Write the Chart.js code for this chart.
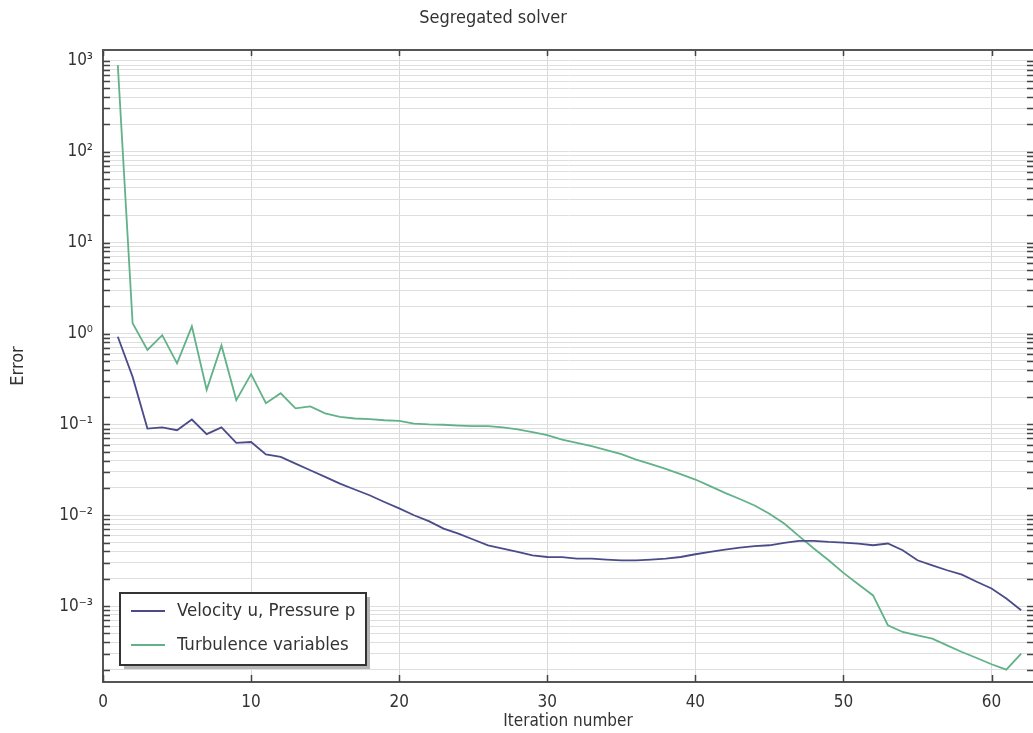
<!DOCTYPE html>
<html>
<head>
<meta charset="utf-8">
<style>
  body { margin: 0; background: #fff; }
  canvas { display: block; }
</style>
<script src="https://cdn.jsdelivr.net/npm/chart.js@4.4.0/dist/chart.umd.min.js"></script>
</head>
<body>
<canvas id="solverChart" width="1033" height="733"></canvas>
<script>
// Segregated solver convergence
const iterations = [1, 2, 3, 4, 5, 6, 7, 8, 9, 10, 11, 12, 13, 14, 15, 16, 17, 18, 19, 20,
  21, 22, 23, 24, 25, 26, 27, 28, 29, 30, 31, 32, 33, 34, 35, 36, 37, 38, 39, 40,
  41, 42, 43, 44, 45, 46, 47, 48, 49, 50, 51, 52, 53, 54, 55, 56, 57, 58, 59, 60, 61, 62];

const velocityError = [0.92, 0.333, 0.090, 0.0925, 0.0863, 0.113, 0.078, 0.0925, 0.0625, 0.064,
  0.0466, 0.0438, 0.037, 0.0313, 0.0264, 0.0223, 0.0192, 0.0166, 0.014, 0.0119,
  0.0100, 0.0086, 0.00713, 0.00628, 0.0054, 0.00467, 0.0043, 0.00394, 0.00362, 0.00347,
  0.00345, 0.00333, 0.00333, 0.00325, 0.00319, 0.00319, 0.00325, 0.00333, 0.00347, 0.00372,
  0.00394, 0.00419, 0.0044, 0.00456, 0.00467, 0.00496, 0.00521, 0.00521, 0.00508, 0.005,
  0.00488, 0.00467, 0.00488, 0.00412, 0.00319, 0.00281, 0.00248, 0.00222, 0.00185, 0.00156,
  0.00121, 0.0009];

const turbulenceError = [900, 1.30, 0.66, 0.96, 0.47, 1.2, 0.24, 0.74, 0.185, 0.357,
  0.171, 0.22, 0.150, 0.158, 0.132, 0.121, 0.116, 0.114, 0.111, 0.109,
  0.102, 0.100, 0.099, 0.097, 0.0955, 0.0955, 0.0925, 0.088, 0.082, 0.076,
  0.068, 0.0625, 0.0575, 0.052, 0.047, 0.041, 0.0365, 0.0324, 0.0283, 0.0247,
  0.0209, 0.0176, 0.0151, 0.0128, 0.0104, 0.0081, 0.00588, 0.0043, 0.00319, 0.00232,
  0.00174, 0.00131, 0.000615, 0.000519, 0.000477, 0.000438, 0.00037, 0.000312, 0.000268, 0.000229,
  0.0002, 0.0003];

const seriesLabels = ["Velocity u, Pressure p", "Turbulence variables"];
const decades = [-4, -3, -2, -1, 0, 1, 2, 3];
const mantissas = [1, 2, 3, 4, 5, 6, 7, 8, 9];
const xTickStep = 10;

const FONT = "'DejaVu Sans Condensed', 'DejaVu Sans', sans-serif";
const Y_MIN = 1.46e-4, Y_MAX = 1320;

const yTickValues = [];
decades.forEach(e => mantissas.forEach(m => {
  const v = m * Math.pow(10, e);
  if (v >= Y_MIN && v <= Y_MAX) yTickValues.push(v);
}));

const SUP = { "-": "\u207B", "0": "\u2070", "1": "\u00B9", "2": "\u00B2", "3": "\u00B3" };
function powLabel(v) {
  const e = Math.round(Math.log10(v));
  if (Math.abs(v / Math.pow(10, e) - 1) > 1e-6) return "";
  return "10" + String(e).split("").map(c => SUP[c]).join("");
}

function toPoints(values) {
  return values.map((v, i) => ({ x: iterations[i], y: v }));
}

// frame, inward ticks, title and the boxed legend
const comsolLook = {
  id: "comsolLook",
  afterDraw(chart) {
    const { ctx, chartArea: a, scales } = chart;
    ctx.save();
    ctx.strokeStyle = "#444";
    ctx.lineWidth = 1.5;
    ctx.beginPath();
    scales.y.ticks.forEach(t => {
      const y = Math.round(scales.y.getPixelForValue(t.value)) + 0.5;
      ctx.moveTo(a.left, y); ctx.lineTo(a.left + 7, y);
      ctx.moveTo(a.right, y); ctx.lineTo(a.right - 6, y);
    });
    scales.x.ticks.forEach(t => {
      const x = Math.round(scales.x.getPixelForValue(t.value)) + 0.5;
      ctx.moveTo(x, a.bottom); ctx.lineTo(x, a.bottom - 7);
      ctx.moveTo(x, a.top); ctx.lineTo(x, a.top + 6);
    });
    ctx.stroke();

    ctx.strokeStyle = "#555";
    ctx.lineWidth = 2;
    ctx.beginPath();
    ctx.moveTo(a.left, a.top); ctx.lineTo(a.right, a.top);
    ctx.stroke();

    ctx.fillStyle = "#333";
    ctx.font = "18px " + FONT;
    ctx.textAlign = "center";
    ctx.textBaseline = "middle";
    ctx.fillText("Segregated solver", 493, 18);

    // legend box
    const bx = a.left + 17, by = a.bottom - 89, bw = 246, bh = 72;
    ctx.fillStyle = "#b5b5b5";
    ctx.fillRect(bx + 4, by + 4, bw, bh);
    ctx.fillStyle = "#fff";
    ctx.fillRect(bx, by, bw, bh);
    ctx.strokeStyle = "#333";
    ctx.lineWidth = 2;
    ctx.strokeRect(bx, by, bw, bh);
    chart.data.datasets.forEach((ds, i) => {
      const ly = by + 18 + i * 34;
      ctx.strokeStyle = ds.borderColor;
      ctx.lineWidth = 2;
      ctx.beginPath();
      ctx.moveTo(bx + 11, ly); ctx.lineTo(bx + 45, ly);
      ctx.stroke();
      ctx.fillStyle = "#333";
      ctx.font = "18.5px " + FONT;
      ctx.textAlign = "left";
      ctx.fillText(ds.label, bx + 57, ly);
    });
    ctx.restore();
  }
};

new Chart(document.getElementById("solverChart"), {
  type: "line",
  data: {
    datasets: [
      {
        label: seriesLabels[0],
        data: toPoints(velocityError),
        borderColor: "#4a4c8a",
        borderWidth: 1.8,
        pointRadius: 0,
        tension: 0,
        fill: false
      },
      {
        label: seriesLabels[1],
        data: toPoints(turbulenceError),
        borderColor: "#62b289",
        borderWidth: 1.8,
        pointRadius: 0,
        tension: 0,
        fill: false
      }
    ]
  },
  options: {
    responsive: false,
    animation: false,
    layout: { padding: { top: 50, right: 0, bottom: 0, left: 0 } },
    plugins: {
      legend: { display: false },
      tooltip: { enabled: false },
      title: { display: false }
    },
    scales: {
      x: {
        type: "linear",
        min: 0,
        max: 62.8,
        afterFit: s => { s.height = 51; },
        ticks: {
          stepSize: xTickStep,
          includeBounds: false,
          padding: 10,
          color: "#333",
          font: { family: FONT, size: 17 }
        },
        grid: { color: "#d9d9d9", lineWidth: 1, drawTicks: false },
        border: { color: "#555", width: 2 },
        title: {
          display: true,
          text: "Iteration number",
          color: "#333",
          font: { family: FONT, size: 17 },
          padding: { top: 0, bottom: 1 }
        }
      },
      y: {
        type: "logarithmic",
        min: Y_MIN,
        max: Y_MAX,
        afterFit: s => { s.width = 103; },
        afterBuildTicks: s => { s.ticks = yTickValues.map(v => ({ value: v })); },
        ticks: {
          autoSkip: false,
          padding: 10,
          color: "#333",
          font: { family: FONT, size: 17 },
          callback: v => powLabel(v)
        },
        grid: { color: "#dedede", lineWidth: 1, drawTicks: false },
        border: { color: "#555", width: 2 },
        title: {
          display: true,
          text: "Error",
          color: "#333",
          font: { family: FONT, size: 18 },
          padding: { top: 8, bottom: 0 }
        }
      }
    }
  },
  plugins: [comsolLook]
});
</script>
</body>
</html>
